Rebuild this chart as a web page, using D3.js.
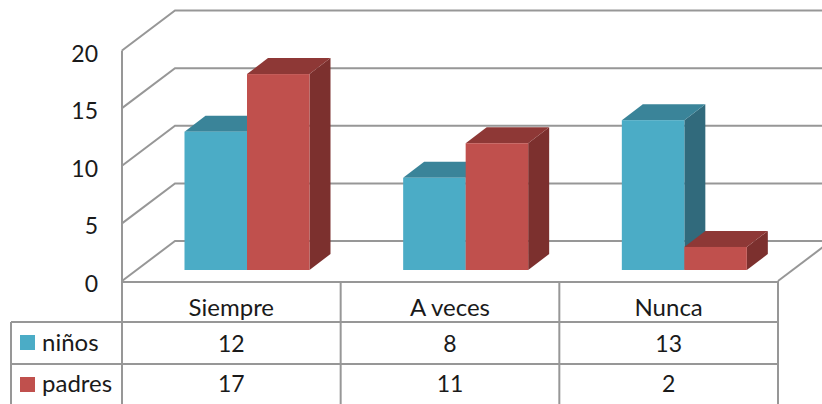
<!DOCTYPE html>
<html><head><meta charset="utf-8">
<script src="https://cdn.jsdelivr.net/npm/d3@7"></script>
<style>html,body{margin:0;background:#fff}svg{display:block}text{font-family:Lato,"Open Sans",sans-serif;fill:#1a1a1a}</style>
</head><body><svg id="c" width="822" height="404"></svg>
<script>
const categories = ["Siempre","A veces","Nunca"];
const ninos = [12,8,13];
const padres = [17,11,2];
const ticks = [0,5,10,15,20];
const series = [
 {name:"niños",values:ninos,front:"#4BACC6",top:"#3A8499",side:"#316A7C"},
 {name:"padres",values:padres,front:"#C0504D",top:"#8E3836",side:"#7C302E"}];
const svg = d3.select("#c");
const fs = 23, labelFs = 24;
const wallDx = 53, wallDy = -40, depthDx = 21, depthDy = -16;
const x = d3.scaleBand().domain(categories).range([122,778]);
const y = d3.scaleLinear().domain([0,20]).range([281,50.5]);
const inset = 62.5, barW = 62.5;
const baseShift = -11;
const grid = "#979797";
const g = svg.append("g").attr("fill","none").attr("stroke",grid).attr("stroke-width",2);
ticks.forEach(t=>{
  const yy=y(t);
  g.append("path").attr("d",`M${x.range()[0]},${yy}L${x.range()[0]+wallDx},${yy+wallDy}L830,${yy+wallDy}`);
});
g.append("path").attr("d",`M122,${y(20)}V${y(0)}`);
g.append("path").attr("d",`M778,${y(0)}L${778+wallDx},${y(0)+wallDy}`);
categories.forEach((c,i)=>{
  series.forEach((s,j)=>{
    const x0=x(c)+inset+j*barW, x1=x0+barW, yb=y(0)+baseShift, yt=y(s.values[i])+baseShift;
    const b=svg.append("g");
    b.append("path").attr("fill",s.side).attr("d",`M${x1},${yt}L${x1+depthDx},${yt+depthDy}V${yb+depthDy}L${x1},${yb}Z`);
    b.append("path").attr("fill",s.top).attr("d",`M${x0},${yt}L${x0+depthDx},${yt+depthDy}H${x1+depthDx}L${x1},${yt}Z`);
    b.append("rect").attr("fill",s.front).attr("x",x0).attr("y",yt).attr("width",barW).attr("height",yb-yt);
  });
});
ticks.forEach(t=>{
  svg.append("text").attr("x",98).attr("y",y(t)+11).attr("text-anchor","end").attr("font-size",fs).text(t);
});
const rows=[322,364,404];
const t=svg.append("g").attr("fill","none").attr("stroke",grid).attr("stroke-width",2);
t.append("path").attr("d",`M122,${y(0)+1}H778`);
x.domain().concat([null]).forEach(c=>{
  const xx=c===null?x.range()[1]:x(c);
  t.append("path").attr("d",`M${xx},${y(0)}V404`);
});
t.append("path").attr("d","M11,322H778M11,364H778M11,322V404");
categories.forEach((c,i)=>{
  const cx=x(c)+x.bandwidth()/2;
  svg.append("text").attr("x",cx).attr("y",316).attr("text-anchor","middle").attr("font-size",labelFs).text(c);
  series.forEach((s,j)=>{
    svg.append("text").attr("x",cx).attr("y",rows[j]+30-j*2).attr("text-anchor","middle").attr("font-size",fs).text(s.values[i]);
  });
});
series.forEach((s,j)=>{
  svg.append("rect").attr("x",20).attr("y",rows[j]+13).attr("width",15).attr("height",15).attr("fill",s.front);
  svg.append("text").attr("x",42).attr("y",rows[j]+29-j).attr("font-size",labelFs).text(s.name);
});
</script></body></html>
